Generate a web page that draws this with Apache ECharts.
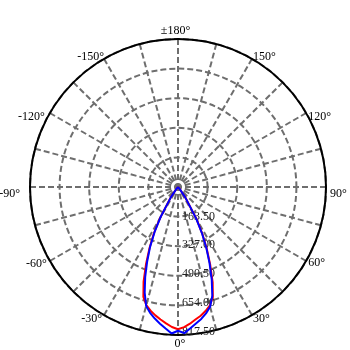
<!DOCTYPE html>
<html>
<head>
<meta charset="utf-8">
<script src="https://cdn.jsdelivr.net/npm/echarts@6/dist/echarts.min.js"></script>
<style>
html,body{margin:0;padding:0;background:#fff;}
#chart{width:350px;height:350px;}
</style>
</head>
<body>
<div id="chart"></div>
<script>
// Angles in degrees (0 = bottom, positive = right side)
var angles = [-180,-150,-120,-90,-60,-45,-40,-35,-30,-27.5,-25,-22.5,-20,-17.5,-15,-12.5,-10,-7.5,-5,-2.5,0,2.5,5,7.5,10,12.5,15,17.5,20,22.5,25,27.5,30,35,40,45,60,90,120,150,180];
var blueValues = [0,0,0,0,2,5,15,68,195,280,365,445,530,612,680,712,738,762,785,810,794,808,783,760,740,715,685,630,545,455,370,285,200,70,15,5,2,0,0,0,0];
var redValues  = [0,0,0,0,2,5,16,70,200,288,372,462,556,636,676,700,720,738,756,774,786,775,758,738,722,702,678,640,560,465,375,290,205,72,16,5,2,0,0,0,0];
var radiusTicks = [163.5, 327, 490.5, 654, 817.5];
var angleTickValues = [0, 30, 60, 90, 120, 150, 180, 210, 240, 270, 300, 330];
var angleTickLabels = ['0°','30°','60°','90°','120°','150°','±180°','-150°','-120°','-90°','-60°','-30°'];

function toAxisAngle(a){ return a < 0 ? a + 360 : a; }
function build(vals){
  var out = [];
  for (var i = 0; i < angles.length; i++) out.push([vals[i], toAxisAngle(angles[i])]);
  return out;
}
var serif = "'Liberation Serif','Times New Roman',serif";
function st(p, color){ return { padding: p, lineHeight: 1, fontFamily: serif, fontSize: 12, color: color }; }
// label placement tweaks (padding: top, right, bottom, left)
var labelPads = {
  0:[16,0,0,4], 30:[6,0,0,1], 60:[3,0,0,2], 90:[14,0,0,4], 120:[9,0,0,2], 150:[0,0,2,1],
  180:[0,5,16,0], 210:[0,0,2,0], 240:[9,5,0,0], 270:[14,10,0,0], 300:[4,3,0,0], 330:[6,2,0,0]
};
var rich = {};
angleTickValues.forEach(function(v){ rich['a' + v] = st(labelPads[v], '#000'); });
var radiusPads = [[0,0,0,0],[0,0,2,0],[0,0,3,0],[0,0,6,0],[0,0,6,0]];
var richR = {};
radiusTicks.forEach(function(v, i){ richR['r' + i] = st(radiusPads[i], '#222'); });

var chart = echarts.init(document.getElementById('chart'), null, {renderer:'canvas'});
chart.setOption({
  animation: false,
  polar: { center: [178, 187], radius: 148 },
  angleAxis: {
    type: 'value', min: 0, max: 360, interval: 15,
    startAngle: 270, clockwise: false,
    axisLine: { show: true, lineStyle: { color: '#000', width: 2 } },
    axisTick: { show: false },
    axisLabel: {
      margin: 0, color: '#000', fontFamily: serif, fontSize: 12,
      rich: rich,
      formatter: function(v){
        var i = angleTickValues.indexOf(v);
        return i < 0 ? '' : '{a' + v + '|' + angleTickLabels[i] + '}';
      }
    },
    splitLine: { show: true, lineStyle: { color: '#6e6e6e', width: 2, type: [6,3] } }
  },
  radiusAxis: {
    type: 'value', min: 0, max: radiusTicks[radiusTicks.length-1], interval: radiusTicks[0],
    axisLine: { show: false },
    axisTick: { show: false },
    axisLabel: {
      color: '#222', fontFamily: serif, fontSize: 12, margin: 4,
      rich: richR,
      formatter: function(v){
        var i = radiusTicks.indexOf(v);
        return i < 0 ? '' : '{r' + i + '|' + v.toFixed(2) + '}';
      }
    },
    splitLine: { show: true, lineStyle: { color: '#6e6e6e', width: 2, type: [6,3] } }
  },
  series: [
    { type: 'line', coordinateSystem: 'polar', data: build(redValues), symbol: 'none',
      lineStyle: { color: '#ff0000', width: 2 }, z: 3 },
    { type: 'line', coordinateSystem: 'polar', data: build(blueValues), symbol: 'none',
      lineStyle: { color: '#0000ff', width: 2 }, z: 4 }
  ]
});
</script>
</body>
</html>
